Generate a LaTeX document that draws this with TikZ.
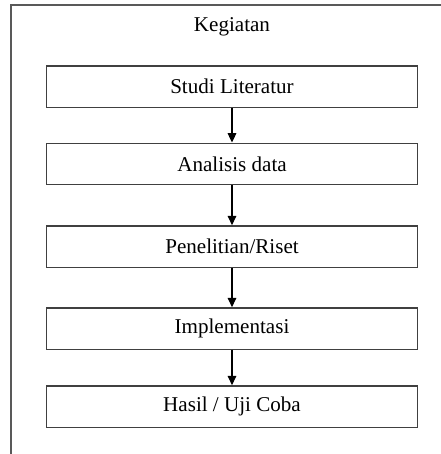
\documentclass[tikz,border=0pt]{standalone}
\usepackage{fontspec}
\setmainfont{Liberation Serif}
\usepackage{tikz}
\usetikzlibrary{arrows.meta, positioning}
\tikzstyle{fStep} = [rectangle, minimum width=278pt, minimum height=31pt, text centered, draw=black!75, line width=1pt, font=\fontsize{15.8}{19}\selectfont]
\tikzstyle{fTitle} = [font=\fontsize{15.8}{19}\selectfont]
\tikzstyle{fArrow} = [line width=0.8pt, -{Triangle[width=6.5pt,length=7pt]}]

\begin{document}
\begin{tikzpicture}[x=0.75pt, y=0.75pt, node distance=60pt]
    \useasboundingbox (0,0) rectangle (440,-454);
    % frame round the whole chart
    \draw [draw=black!65, line width=1pt] (445,-5) -- (11,-5) -- (11,-460);

    \node (studi) [fStep] at (232,-86.5) {Studi Literatur};
    \node (kegiatan) [fTitle, above of=studi, yshift=-15pt] {Kegiatan};
    \node (analisis) [fStep, below of=studi, yshift=2pt] {Analisis data};
    \node (riset) [fStep, below of=analisis, yshift=-2pt] {Penelitian/Riset};
    \node (implementasi) [fStep, below of=riset, yshift=-1.5pt] {Implementasi};
    \node (hasil) [fStep, below of=implementasi, yshift=1.5pt] {Hasil / Uji Coba};

    \draw [fArrow] (studi) -- (analisis);
    \draw [fArrow] (analisis) -- (riset);
    \draw [fArrow] (riset) -- (implementasi);
    \draw [fArrow] (implementasi) -- (hasil);
\end{tikzpicture}
\end{document}
